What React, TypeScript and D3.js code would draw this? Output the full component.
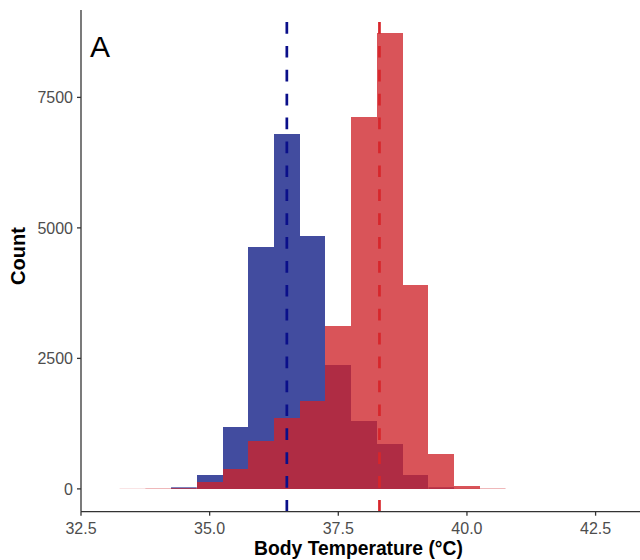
import React from "react";
import * as d3 from "d3";

// Histogram bins (centers, binwidth 0.5) and counts
const binCenters = [33.5, 34.0, 34.5, 35.0, 35.5, 36.0, 36.5, 37.0, 37.5, 38.0, 38.5, 39.0, 39.5, 40.0, 40.5];
const blueCounts = [0, 0, 30, 268, 1190, 4625, 6790, 4850, 2365, 1300, 855, 258, 30, 3, 0];
const redCounts = [3, 8, 15, 128, 385, 925, 1356, 1688, 3125, 7125, 8737, 3900, 673, 50, 8];
const binWidth = 0.5;
const blueMean = 36.5;
const redMean = 38.3;
const xTicks = [32.5, 35.0, 37.5, 40.0, 42.5];
const yTicks = [0, 2500, 5000, 7500];

const W = 640;
const H = 560;
const left = 81;
const right = 640;
const top = 10;
const bottom = 511.7;

export default function App() {
  const x = d3.scaleLinear().domain([32.5, 43.363]).range([left, right]);
  const y = d3.scaleLinear().domain([-437, 9174]).range([bottom, top]);
  const fmt = d3.format(".1f");
  const font = "'Liberation Sans', Arial, Helvetica, sans-serif";

  const bars = (counts: number[], fill: string, opacity: number) =>
    binCenters.map((c, i) => {
      const x0 = x(c - binWidth / 2);
      const x1 = x(c + binWidth / 2);
      const v = counts[i];
      if (v <= 0) return null;
      const h = y(0) - y(v);
      return (
        <rect
          key={i}
          x={x0}
          width={x1 - x0}
          y={y(v)}
          height={h}
          fill={fill}
          fillOpacity={opacity}
          shapeRendering={h >= 2 ? "crispEdges" : "auto"}
        />
      );
    });

  return (
    <svg
      width={W}
      height={H}
      style={{ position: "absolute", left: 0, top: 0, background: "#fff" }}
      fontFamily={font}
    >
      <rect x={0} y={0} width={W} height={H} fill="#fff" />
      <g>{bars(blueCounts, "#000D7D", 0.74)}</g>
      <g>{bars(redCounts, "#CE242A", 0.78)}</g>
      <line
        x1={x(blueMean)}
        x2={x(blueMean)}
        y1={bottom}
        y2={top}
        stroke="#0A0F8A"
        strokeWidth={2.7}
        strokeDasharray="11.7 12.2"
      />
      <line
        x1={x(redMean)}
        x2={x(redMean)}
        y1={bottom}
        y2={top}
        stroke="#D7262B"
        strokeWidth={2.7}
        strokeDasharray="11.7 12.2"
      />
      {/* axes */}
      <line x1={left} x2={left} y1={top} y2={bottom} stroke="#333" strokeWidth={1.3} />
      <line x1={left} x2={right} y1={bottom} y2={bottom} stroke="#333" strokeWidth={1.3} />
      {yTicks.map((t) => (
        <g key={t}>
          <line x1={left - 4} x2={left} y1={y(t)} y2={y(t)} stroke="#333" strokeWidth={1.3} />
          <text
            x={left - 8}
            y={y(t)}
            dy="0.36em"
            textAnchor="end"
            fontSize={16}
            fill="#4D4D4D"
          >
            {t}
          </text>
        </g>
      ))}
      {xTicks.map((t) => (
        <g key={t}>
          <line x1={x(t)} x2={x(t)} y1={bottom} y2={bottom + 4} stroke="#333" strokeWidth={1.3} />
          <text x={x(t)} y={533.5} textAnchor="middle" fontSize={16} fill="#4D4D4D">
            {fmt(t)}
          </text>
        </g>
      ))}
      <text x={(left + right) / 2 - 2} y={555} textAnchor="middle" fontSize={19.3} fontWeight="bold" fill="#000">
        Body Temperature (°C)
      </text>
      <text
        transform={`translate(25, 256) rotate(-90)`}
        textAnchor="middle"
        fontSize={20}
        fontWeight="bold"
        fill="#000"
      >
        Count
      </text>
      <text x={90} y={57.3} fontSize={30} fill="#000">
        A
      </text>
    </svg>
  );
}
